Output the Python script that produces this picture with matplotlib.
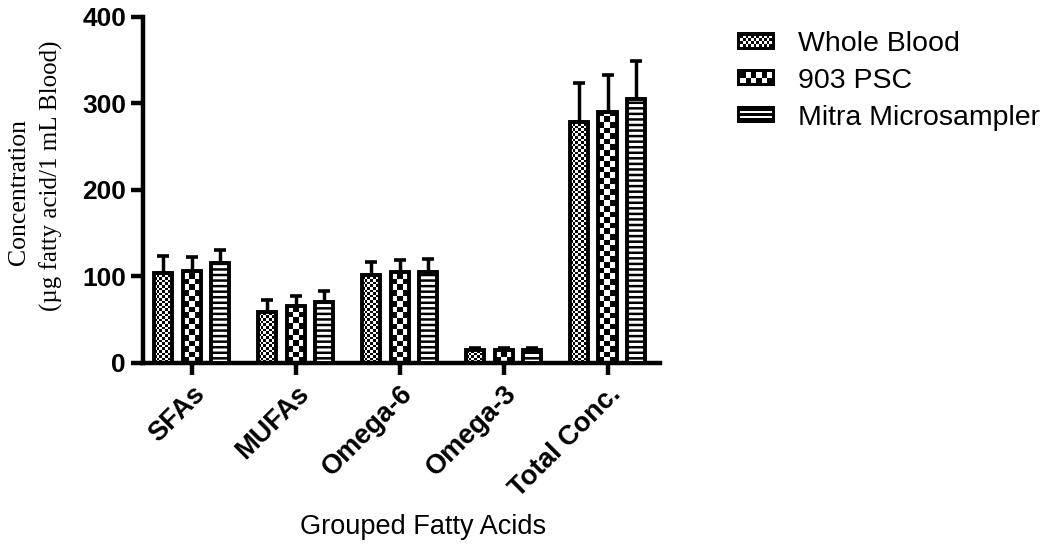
import numpy as np
import matplotlib
matplotlib.use("Agg")
import matplotlib.pyplot as plt
from matplotlib.patches import Rectangle

# data
categories = ["SFAs", "MUFAs", "Omega-6", "Omega-3", "Total Conc."]
series = ["Whole Blood", "903 PSC", "Mitra Microsampler"]
whole_blood = [104, 59, 101, 15, 279]
whole_blood_err = [19, 14, 15, 2, 45]
psc_903 = [106, 66, 105, 15, 290]
psc_903_err = [16, 11, 14, 2, 43]
mitra = [115, 70, 105, 15, 305]
mitra_err = [16, 13, 15, 2, 44]
y_ticks = [0, 100, 200, 300, 400]

plt.rcParams["font.family"] = ["Liberation Sans", "DejaVu Sans"]
plt.rcParams["hatch.linewidth"] = 1.8

# pattern per series: ("checker", cell px) or ("hatch", pattern)
PATTERNS = [("checker", 2.6), ("checker", 5.6), ("hatch", "---")]
EDGE_LW = 2.8

fig = plt.figure(figsize=(10.42, 5.48), dpi=100)
ax = fig.add_axes([0.137, 0.338, 0.496, 0.631])
ax.set_xlim(-0.47, 4.5)
ax.set_ylim(0, 400)


def checker_image(ax, patch, cell):
    """Overlay a black/white checkerboard clipped to a bar patch."""
    x0, y0 = patch.get_x(), patch.get_y()
    x1, y1 = x0 + patch.get_width(), y0 + patch.get_height()
    (px0, py0), (px1, py1) = ax.transData.transform([(x0, y0), (x1, y1)])
    dx = (x1 - x0) / (px1 - px0)
    dy = (y1 - y0) / (py1 - py0) if py1 != py0 else 1.0
    nc = int(np.ceil((px1 - px0) / cell)) + 1
    nr = int(np.ceil(max(py1 - py0, 1) / cell)) + 1
    ii, jj = np.indices((nr, nc))
    arr = (ii + jj) % 2
    im = ax.imshow(arr, cmap="gray", vmin=0, vmax=1, origin="lower",
                   interpolation="nearest", aspect="auto",
                   extent=[x0, x0 + nc * cell * dx, y0, y0 + nr * cell * dy],
                   zorder=2.5)
    im.set_clip_path(patch)
    return im


x = np.arange(len(categories))
offset, width = 0.272, 0.175
values = [whole_blood, psc_903, mitra]
errors = [whole_blood_err, psc_903_err, mitra_err]

for k, (vals, errs, (kind, spec)) in enumerate(zip(values, errors, PATTERNS)):
    xs = x + (k - 1) * offset
    ax.errorbar(xs, vals, yerr=[np.zeros(len(vals)), errs], fmt="none",
                ecolor="black", elinewidth=2.5, capsize=4.5, capthick=2.6, zorder=1)
    if kind == "checker":
        bars = ax.bar(xs, vals, width, color="white", edgecolor="none", zorder=2)
        for b in bars:
            checker_image(ax, b, spec)
        ax.bar(xs, vals, width, fill=False, edgecolor="black", linewidth=EDGE_LW,
               zorder=3)
    else:
        ax.bar(xs, vals, width, color="white", edgecolor="black", hatch=spec,
               linewidth=EDGE_LW, zorder=3)

ax.set_xlim(-0.47, 4.5)
ax.set_ylim(0, 400)

for side in ("top", "right"):
    ax.spines[side].set_visible(False)
for side in ("left", "bottom"):
    ax.spines[side].set_linewidth(3.2)
ax.tick_params(axis="both", width=3.2, length=8.5, direction="out")
ax.tick_params(axis="x", pad=4.5)
ax.set_yticks(y_ticks)
ax.set_yticklabels([str(t) for t in y_ticks], fontsize=19, fontweight="bold")
ax.set_xticks(x)
ax.set_xticklabels(categories, fontsize=19.5, fontweight="bold", rotation=45,
                   ha="right", va="top", rotation_mode="anchor")

serif = ["Liberation Serif", "DejaVu Serif"]
fig.text(19 / 1042, 1 - 192 / 548, "Concentration", rotation=90, ha="center",
         va="center", fontsize=18.5, family=serif)
fig.text(51 / 1042, 1 - 176 / 548, "(\u00b5g fatty acid/1 mL Blood)", rotation=90,
         ha="center", va="center", fontsize=18, family=serif)
fig.text(0.406, 0.038, "Grouped Fatty Acids", ha="center", va="center", fontsize=19.5)


# legend drawn by a small handler so the checker patterns match the bars
class PatternHandler:
    def __init__(self, kind, spec):
        self.kind, self.spec = kind, spec

    def legend_artist(self, legend, orig_handle, fontsize, handlebox):
        x0, y0 = -handlebox.xdescent, -handlebox.ydescent
        w, h = handlebox.width, handlebox.height
        tr = handlebox.get_transform()
        bg = Rectangle((x0, y0), w, h, facecolor="black", edgecolor="none", transform=tr)
        handlebox.add_artist(bg)
        pad = 2.2
        iw, ih = w - 2 * pad, h - 2 * pad
        if self.kind == "checker":
            cell = self.spec * 0.72
            nc, nr = int(round(iw / cell)), int(round(ih / cell))
            cw, chh = iw / nc, ih / nr
            for i in range(nr):
                for j in range(nc):
                    if (i + j) % 2 == 0:
                        handlebox.add_artist(Rectangle(
                            (x0 + pad + j * cw, y0 + pad + i * chh), cw, chh,
                            facecolor="white", edgecolor="none", transform=tr))
        else:
            for yy in (0.35, 0.65):
                handlebox.add_artist(Rectangle(
                    (x0 + pad, y0 + yy * h - 0.8), iw, 1.6,
                    facecolor="white", edgecolor="none", transform=tr))
        return bg


handles = [Rectangle((0, 0), 1, 1) for _ in series]
fig.legend(handles, series, loc="upper left", bbox_to_anchor=(0.683, 0.99),
           frameon=False, fontsize=20.5, handlelength=1.33, handleheight=0.55,
           handletextpad=0.8, labelspacing=0.38,
           handler_map={h: PatternHandler(*p) for h, p in zip(handles, PATTERNS)})

fig.savefig("out.png", dpi=100)
